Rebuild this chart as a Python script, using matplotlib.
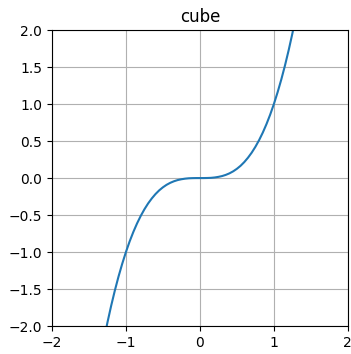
import matplotlib
matplotlib.use("Agg")
import matplotlib.pyplot as plt

# Sampled points of the cube curve
x_values = [-1.30, -1.25, -1.20, -1.15, -1.10, -1.05, -1.00, -0.95, -0.90,
            -0.85, -0.80, -0.75, -0.70, -0.65, -0.60, -0.55, -0.50, -0.45,
            -0.40, -0.35, -0.30, -0.25, -0.20, -0.15, -0.10, -0.05, 0.00,
            0.05, 0.10, 0.15, 0.20, 0.25, 0.30, 0.35, 0.40, 0.45, 0.50,
            0.55, 0.60, 0.65, 0.70, 0.75, 0.80, 0.85, 0.90, 0.95, 1.00,
            1.05, 1.10, 1.15, 1.20, 1.25, 1.30]
y_values = [-2.197, -1.953, -1.728, -1.521, -1.331, -1.158, -1.000, -0.857,
            -0.729, -0.614, -0.512, -0.422, -0.343, -0.275, -0.216, -0.166,
            -0.125, -0.091, -0.064, -0.043, -0.027, -0.016, -0.008, -0.003,
            -0.001, -0.000, 0.000, 0.000, 0.001, 0.003, 0.008, 0.016, 0.027,
            0.043, 0.064, 0.091, 0.125, 0.166, 0.216, 0.275, 0.343, 0.422,
            0.512, 0.614, 0.729, 0.857, 1.000, 1.158, 1.331, 1.521, 1.728,
            1.953, 2.197]

x_ticks = [-2, -1, 0, 1, 2]
y_ticks = [-2.0, -1.5, -1.0, -0.5, 0.0, 0.5, 1.0, 1.5, 2.0]

fig = plt.figure(figsize=(3.51, 3.54), dpi=100)
ax = fig.add_axes([0.148, 0.079, 0.843, 0.836])

ax.plot(x_values, y_values, color="#1f77b4", linewidth=1.5)

ax.set_xlim(-2, 2)
ax.set_ylim(-2, 2)
ax.set_xticks(x_ticks)
ax.set_yticks(y_ticks)
ax.set_title("cube", fontsize=12)
ax.tick_params(labelsize=10)
ax.grid(True)

fig.savefig("out.png", dpi=100)
